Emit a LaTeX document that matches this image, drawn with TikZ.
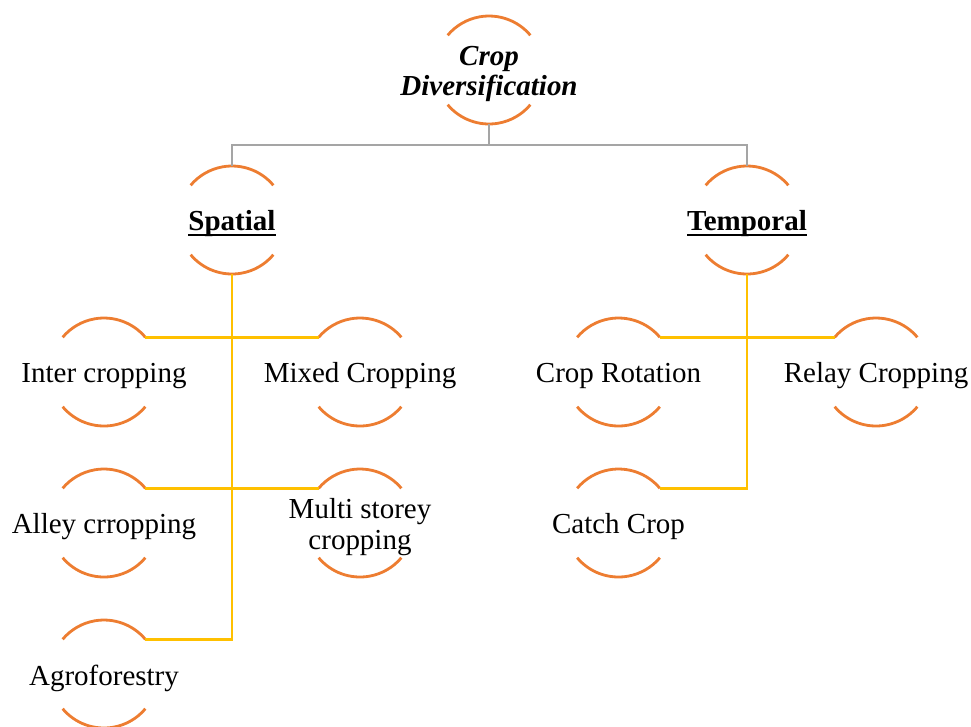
\documentclass[tikz,border=0pt]{standalone}
\usepackage{fontspec}
\setmainfont{Liberation Serif}
\usepackage{tikz}
\usetikzlibrary{positioning}

\definecolor{ringorange}{HTML}{ED7D31}
\definecolor{linkyellow}{HTML}{FFC000}
\definecolor{linkgrey}{HTML}{A5A5A5}

\newcommand{\ulword}[1]{\setbox0\hbox{#1}\rlap{\rule[-1.3pt]{\wd0}{0.5pt}}\box0}

\begin{document}
\begin{tikzpicture}[
ringtext/.style={
  inner sep=0pt,
  align=center,
  font=\fontsize{8.25}{8.7}\selectfont,
},
ringarc/.style={ringorange, line width=0.8pt},
greylink/.style={linkgrey, line width=0.8pt},
yellowlink/.style={linkyellow, line width=0.8pt},
node distance=1.5cm and 2.5cm,
on grid
]
\useasboundingbox (0,0) rectangle (9.71,7.26);

\node[ringtext] (top) at (4.89,6.52)
    {\textbf{\textit{Crop}}\\ \textbf{\textit{Diversification}}};
\node[ringtext, below left=1.5cm and 2.57cm of top] (spa)
    {\textbf{\ulword{Spatial}}};
\node[ringtext, below right=1.5cm and 2.58cm of top] (tem)
    {\textbf{\ulword{Temporal}}};

\node[ringtext, below left=1.52cm and 1.28cm of spa] (inter)
    {Inter cropping};
\node[ringtext, below right=1.52cm and 1.28cm of spa] (mixed)
    {Mixed Cropping};
\node[ringtext, below=1.51cm of inter] (alley)
    {Alley crropping};
\node[ringtext, below=1.51cm of mixed] (multi)
    {Multi storey\\ cropping};
\node[ringtext, below=1.51cm of alley] (agro)
    {Agroforestry};

\node[ringtext, below left=1.52cm and 1.285cm of tem] (rot)
    {Crop Rotation};
\node[ringtext, below right=1.52cm and 1.29cm of tem] (relay)
    {Relay Cropping};
\node[ringtext, below=1.51cm of rot] (catch)
    {Catch Crop};

% open rings round every label
\foreach \n in {top,spa,tem,inter,mixed,alley,multi,agro,rot,relay,catch}{
  \coordinate (\n-c) at ([yshift=0.04cm]\n.center);
  \coordinate (\n-t) at ([yshift=0.54cm]\n-c);
  \coordinate (\n-b) at ([yshift=-0.54cm]\n-c);
  \coordinate (\n-tl) at ([shift={(140:0.54)}]\n-c);
  \coordinate (\n-tr) at ([shift={(40:0.54)}]\n-c);
  \draw[ringarc] (\n-tr) arc[start angle=40, end angle=140, radius=0.54];
  \draw[ringarc] ([shift={(220:0.54)}]\n-c) arc[start angle=220, end angle=320, radius=0.54];
}

\draw[greylink] (top-b) -- ++(0,-0.21) -| (spa-t);
\draw[greylink] (top-b) -- ++(0,-0.21) -| (tem-t);

\draw[yellowlink] (spa-b) |- (agro-tr);
\draw[yellowlink] (inter-tr) -- (mixed-tl);
\draw[yellowlink] (alley-tr) -- (multi-tl);

\draw[yellowlink] (tem-b) |- (catch-tr);
\draw[yellowlink] (rot-tr) -- (relay-tl);
\end{tikzpicture}
\end{document}
